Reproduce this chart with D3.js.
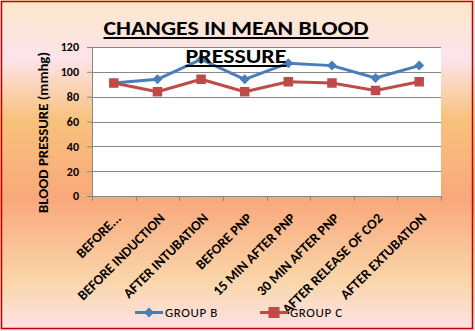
<!DOCTYPE html>
<html><head><meta charset="utf-8">
<script src="https://cdn.jsdelivr.net/npm/d3@7"></script>
<style>html,body{margin:0;padding:0;overflow:hidden;background:#fff}</style>
</head><body>
<svg id="c" width="475" height="331"></svg>
<script>
const categories = ["BEFORE...", "BEFORE INDUCTION", "AFTER INTUBATION", "BEFORE PNP", "15 MIN  AFTER PNP", "30 MIN  AFTER PNP", "AFTER RELEASE OF CO2", "AFTER EXTUBATION"];
const groupB = [91, 94, 110, 94, 107, 105, 95, 105];
const groupC = [91, 84, 94, 84, 92, 91, 85, 92];
const yTicks = [0, 20, 40, 60, 80, 100, 120];
const seriesNames = ["GROUP B", "GROUP C"];
const colors = ["#4A7EBB", "#BE4B48"];
const titleLines = ["CHANGES IN MEAN BLOOD", "PRESSURE"];
const yTitle = "BLOOD PRESSURE (mmhg)";

(function(){
const svg = d3.select("#c");
const W = 475, H = 331;
const font = "Calibri, Carlito, Lato, 'Open Sans', sans-serif";

const defs = svg.append("defs");
const g = defs.append("linearGradient").attr("id","bg").attr("x1",0).attr("y1",0).attr("x2",0).attr("y2",1);
[[0,"#fbe7cb"],[0.18,"#fde3ea"],[0.36,"#f8c27c"],[0.6,"#f9a87b"],[0.85,"#fad6aa"],[1,"#fde3e8"]]
  .forEach(([o,c])=>g.append("stop").attr("offset",o).attr("stop-color",c));
svg.append("rect").attr("x",0).attr("y",0).attr("width",W).attr("height",H).attr("fill","url(#bg)");
svg.append("rect").attr("x",1.5).attr("y",1.5).attr("width",471).attr("height",327)
  .attr("fill","none").attr("stroke","#c00000").attr("stroke-width",1.5);

const pL = 92, pR = 441, pT = 47, pB = 196;
const x = d3.scaleBand().domain(categories).range([pL, pR]).padding(0);
const y = d3.scaleLinear().domain([0,120]).range([pB, pT]);

svg.append("rect").attr("x",pL).attr("y",pT).attr("width",pR-pL).attr("height",pB-pT).attr("fill","#fff");

svg.append("g").selectAll("line").data(yTicks.filter(d=>d>0)).join("line")
  .attr("x1",pL).attr("x2",pR).attr("y1",d=>Math.round(y(d))+0.5).attr("y2",d=>Math.round(y(d))+0.5)
  .attr("stroke","#878787").attr("stroke-width",1);

const ya = svg.append("g").attr("transform",`translate(${pL},0)`)
  .call(d3.axisLeft(y).tickValues(yTicks).tickSize(5).tickPadding(8));
ya.select(".domain").attr("stroke","#878787");
ya.selectAll(".tick line").attr("stroke","#878787");
ya.selectAll(".tick text").attr("font-family",font).attr("font-weight","bold").attr("font-size",12).attr("fill","#000");

const xa = svg.append("g").attr("transform",`translate(0,${pB})`)
  .call(d3.axisBottom(x).tickSize(0).tickFormat(""));
xa.select(".domain").attr("stroke","#878787");
const bounds = d3.range(categories.length+1).map(i=>pL + i*x.step());
svg.append("g").selectAll("line").data(bounds).join("line")
  .attr("x1",d=>Math.round(d)+0.5).attr("x2",d=>Math.round(d)+0.5).attr("y1",pB).attr("y2",pB+5)
  .attr("stroke","#878787");
svg.append("g").selectAll("text").data(categories).join("text")
  .attr("transform",d=>`translate(${x(d)+x.bandwidth()/2+8},${pB+23}) rotate(-45)`)
  .attr("text-anchor","end")
  .attr("font-family",font).attr("font-weight","bold").attr("font-size",14).attr("fill","#000")
  .text(d=>d);

svg.append("text").attr("transform",`translate(48,${(52+213)/2}) rotate(-90)`)
  .attr("text-anchor","middle").attr("font-family",font).attr("font-weight","bold").attr("font-size",13.5)
  .attr("textLength",161).attr("lengthAdjust","spacingAndGlyphs")
  .text(yTitle);

const cx = d=>x(d)+x.bandwidth()/2;
const marker = (sel, si, big) => {
  sel.attr("d", d3.symbol().type(d3.symbolSquare).size(si===0 ? (big?50:50) : (big?121:90)))
     .attr("fill", colors[si]);
};
[groupB, groupC].forEach((vals,si)=>{
  const pts = categories.map((c,i)=>[cx(c), y(vals[i])]);
  svg.append("path").attr("d",d3.line()(pts)).attr("fill","none").attr("stroke",colors[si]).attr("stroke-width",3).attr("stroke-linejoin","round");
  svg.append("g").selectAll("path").data(pts).join("path")
    .attr("transform",p=>`translate(${p[0]},${p[1]})` + (si===0?" rotate(45)":""))
    .call(marker, si, false);
});

const tt = svg.append("g");
[[titleLines[0], 35, 265],[titleLines[1], 63, 101]].forEach(([t,yy,len])=>{
  const cxT = 236;
  tt.append("text").attr("x",cxT).attr("y",yy).attr("text-anchor","middle")
    .attr("font-family",font).attr("font-weight","bold").attr("font-size",20.5)
    .attr("textLength",len).attr("lengthAdjust","spacingAndGlyphs").attr("fill","#000").text(t);
  tt.append("line").attr("x1",cxT-len/2).attr("x2",cxT+len/2).attr("y1",yy+3).attr("y2",yy+3)
    .attr("stroke","#000").attr("stroke-width",1.8);
});

[[135, 0],[260, 1]].forEach(([lx,si])=>{
  const ly = 312.5;
  svg.append("line").attr("x1",lx).attr("x2",lx+28).attr("y1",ly).attr("y2",ly).attr("stroke",colors[si]).attr("stroke-width",3);
  svg.append("path").attr("transform",`translate(${lx+14},${ly})` + (si===0?" rotate(45)":""))
    .call(marker, si, true);
  svg.append("text").attr("x",lx+30).attr("y",ly+4.5).attr("font-family",font).attr("font-size",13).attr("fill","#000")
    .attr("letter-spacing",0.6).text(seriesNames[si]);
});
})();
</script>
</body></html>
